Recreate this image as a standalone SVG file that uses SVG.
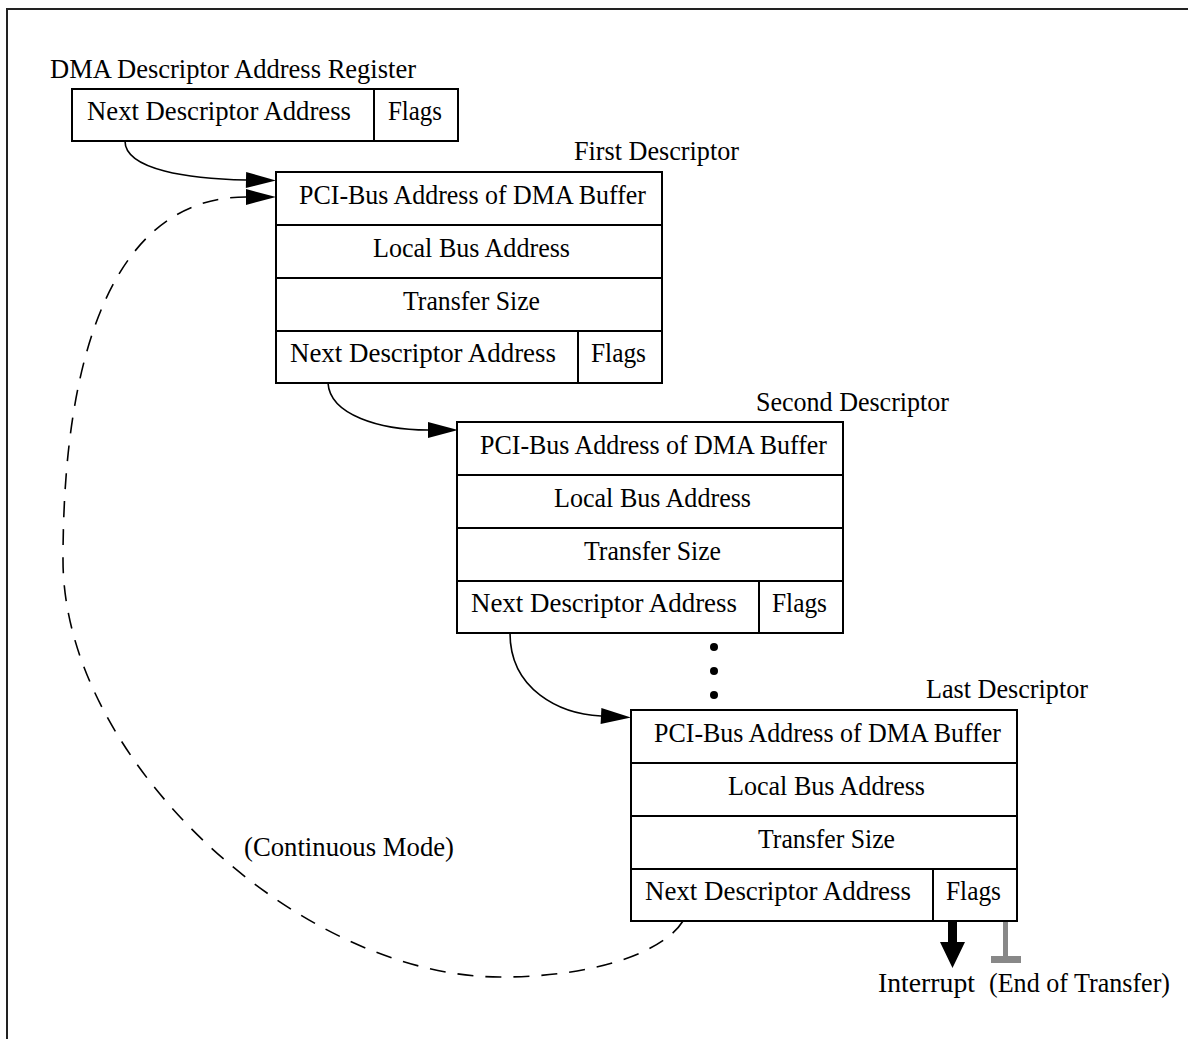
<svg xmlns="http://www.w3.org/2000/svg" width="1188" height="1039" viewBox="0 0 1188 1039">
  <style>
    .frame { fill: none; stroke: #222; stroke-width: 2; }
    .box { fill: #fff; stroke: #000; stroke-width: 2; }
    .rule { stroke: #000; stroke-width: 2; }
    text { font-family: "Liberation Serif", "Times New Roman", serif; font-size: 26.5px; fill: #000; }
    .c { text-anchor: middle; }
    .link { fill: none; stroke: #000; stroke-width: 1.6; }
    .dash { stroke-dasharray: 16 12; }
  </style>
  <defs>
    <marker id="head" markerUnits="userSpaceOnUse" markerWidth="30" markerHeight="16" refX="0" refY="8" orient="auto" overflow="visible">
      <path d="M0,0 L30,8 L0,16 Z" fill="#000"/>
    </marker>
  </defs>

  <rect width="1188" height="1039" fill="#fff"/>
  <!-- page frame: top and left rules only -->
  <path class="frame" d="M7,1039 V9 H1188"/>

  <!-- register -->
  <g id="descriptor-address-register">
    <text x="50" y="78" textLength="366" lengthAdjust="spacingAndGlyphs">DMA Descriptor Address Register</text>
    <rect class="box" x="72" y="89" width="386" height="52"/>
    <line class="rule" x1="374" y1="89" x2="374" y2="141"/>
    <text class="c" x="219" y="120" textLength="264" lengthAdjust="spacingAndGlyphs">Next Descriptor Address</text>
    <text class="c" x="415" y="120" textLength="54" lengthAdjust="spacingAndGlyphs">Flags</text>
  </g>

  <!-- first descriptor -->
  <g id="first-descriptor">
    <text x="574" y="160" textLength="165" lengthAdjust="spacingAndGlyphs">First Descriptor</text>
    <g transform="translate(0,0)">
      <rect class="box" x="276" y="172" width="386" height="211"/>
      <line class="rule" x1="276" y1="225" x2="662" y2="225"/>
      <line class="rule" x1="276" y1="278" x2="662" y2="278"/>
      <line class="rule" x1="276" y1="331" x2="662" y2="331"/>
      <line class="rule" x1="578" y1="331" x2="578" y2="383"/>
      <text class="c" x="472.5" y="204" textLength="347" lengthAdjust="spacingAndGlyphs">PCI-Bus Address of DMA Buffer</text>
      <text class="c" x="471.5" y="257" textLength="197" lengthAdjust="spacingAndGlyphs">Local Bus Address</text>
      <text class="c" x="471.5" y="310" textLength="137" lengthAdjust="spacingAndGlyphs">Transfer Size</text>
      <text class="c" x="423" y="362" textLength="266" lengthAdjust="spacingAndGlyphs">Next Descriptor Address</text>
      <text class="c" x="618.5" y="362" textLength="55" lengthAdjust="spacingAndGlyphs">Flags</text>
    </g>
  </g>

  <!-- second descriptor -->
  <g id="second-descriptor">
    <text x="756" y="411" textLength="193" lengthAdjust="spacingAndGlyphs">Second Descriptor</text>
    <g transform="translate(181,250)">
      <rect class="box" x="276" y="172" width="386" height="211"/>
      <line class="rule" x1="276" y1="225" x2="662" y2="225"/>
      <line class="rule" x1="276" y1="278" x2="662" y2="278"/>
      <line class="rule" x1="276" y1="331" x2="662" y2="331"/>
      <line class="rule" x1="578" y1="331" x2="578" y2="383"/>
      <text class="c" x="472.5" y="204" textLength="347" lengthAdjust="spacingAndGlyphs">PCI-Bus Address of DMA Buffer</text>
      <text class="c" x="471.5" y="257" textLength="197" lengthAdjust="spacingAndGlyphs">Local Bus Address</text>
      <text class="c" x="471.5" y="310" textLength="137" lengthAdjust="spacingAndGlyphs">Transfer Size</text>
      <text class="c" x="423" y="362" textLength="266" lengthAdjust="spacingAndGlyphs">Next Descriptor Address</text>
      <text class="c" x="618.5" y="362" textLength="55" lengthAdjust="spacingAndGlyphs">Flags</text>
    </g>
  </g>

  <!-- ellipsis between second and last -->
  <g id="ellipsis" fill="#000">
    <circle cx="714" cy="647" r="4"/>
    <circle cx="714" cy="671" r="4"/>
    <circle cx="714" cy="695" r="4"/>
  </g>

  <!-- last descriptor -->
  <g id="last-descriptor">
    <text x="926" y="698" textLength="162" lengthAdjust="spacingAndGlyphs">Last Descriptor</text>
    <g transform="translate(355,538)">
      <rect class="box" x="276" y="172" width="386" height="211"/>
      <line class="rule" x1="276" y1="225" x2="662" y2="225"/>
      <line class="rule" x1="276" y1="278" x2="662" y2="278"/>
      <line class="rule" x1="276" y1="331" x2="662" y2="331"/>
      <line class="rule" x1="578" y1="331" x2="578" y2="383"/>
      <text class="c" x="472.5" y="204" textLength="347" lengthAdjust="spacingAndGlyphs">PCI-Bus Address of DMA Buffer</text>
      <text class="c" x="471.5" y="257" textLength="197" lengthAdjust="spacingAndGlyphs">Local Bus Address</text>
      <text class="c" x="471.5" y="310" textLength="137" lengthAdjust="spacingAndGlyphs">Transfer Size</text>
      <text class="c" x="423" y="362" textLength="266" lengthAdjust="spacingAndGlyphs">Next Descriptor Address</text>
      <text class="c" x="618.5" y="362" textLength="55" lengthAdjust="spacingAndGlyphs">Flags</text>
    </g>
  </g>

  <!-- flag outputs -->
  <g id="interrupt">
    <path d="M948,922 H957 V942 H965 L952.5,968 L940,942 H948 Z" fill="#000"/>
    <text x="878" y="992" textLength="97" lengthAdjust="spacingAndGlyphs">Interrupt</text>
  </g>
  <g id="end-of-transfer">
    <path d="M1003,922 H1008 V956 H1021 V963 H991 V956 H1003 Z" fill="#888"/>
    <text x="989" y="992" textLength="181" lengthAdjust="spacingAndGlyphs">(End of Transfer)</text>
  </g>

  <!-- links between descriptors -->
  <g id="connectors">
    <path class="link" d="M125,141 C125,170 190,179 246,180" marker-end="url(#head)"/>
    <path class="link" d="M328,383 C330,415 380,430 428,430" marker-end="url(#head)"/>
    <path class="link" d="M510,633 C510,690 560,714 601,716" marker-end="url(#head)"/>
    <path class="link dash" d="M683,921 C665,950 600,977 500,977 C300,977 63,760 63,560 C63,340 120,197 246,197" marker-end="url(#head)"/>
    <text x="244" y="856" textLength="210" lengthAdjust="spacingAndGlyphs">(Continuous Mode)</text>
  </g>
</svg>
